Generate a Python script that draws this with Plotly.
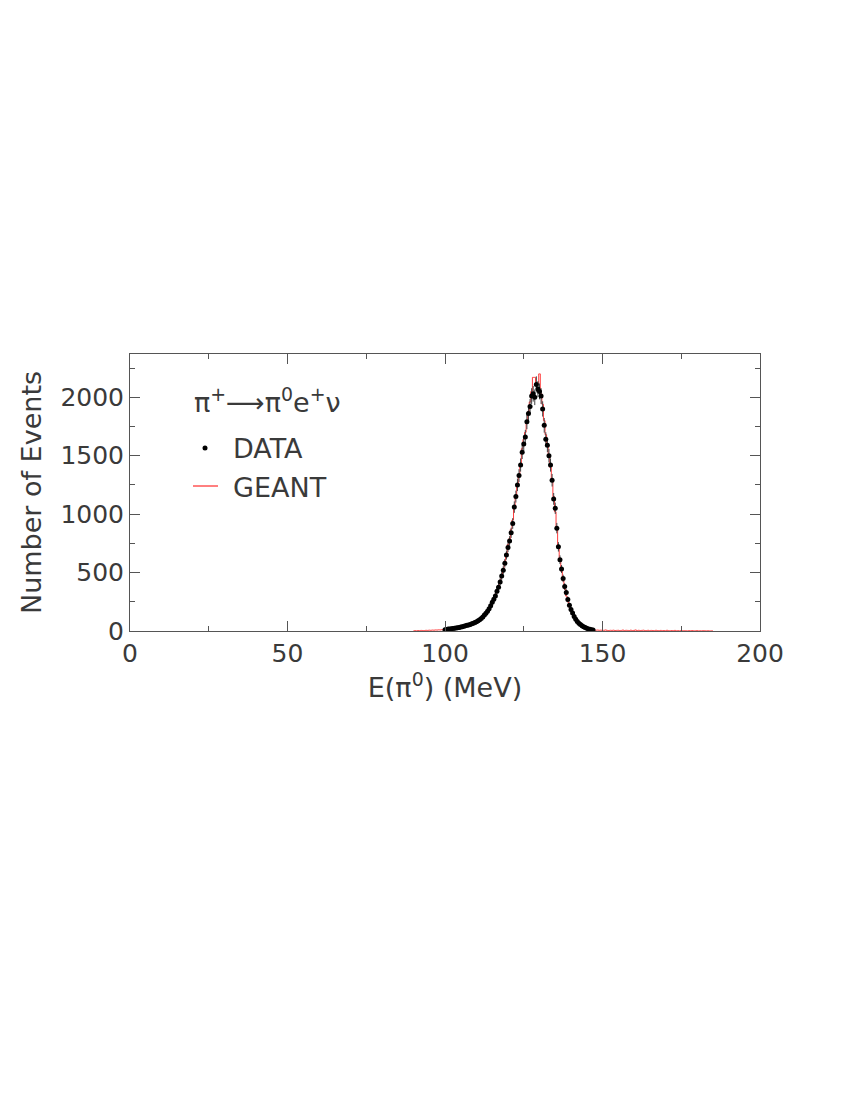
import plotly.graph_objects as go
import numpy as np

# DATA: bin centres (MeV), 0.5 MeV bins
data_e = [100.0 + 0.5 * i for i in range(95)]
data_n = [10, 13, 17, 18, 20, 22, 23, 26, 28, 31,
          34, 37, 41, 45, 49, 52, 56, 61, 66, 73,
          80, 88, 97, 108, 120, 136, 152, 170, 190, 215,
          245, 272, 300, 340, 375, 420, 470, 520, 580, 650,
          715, 770, 840, 920, 1060, 1150, 1250, 1330, 1420, 1530,
          1600, 1660, 1790, 1860, 1920, 2010, 2030, 2000, 2110, 2070,
          2050, 2010, 1900, 1760, 1640, 1590, 1500, 1420, 1290, 1130,
          1050, 880, 720, 610, 530, 450, 380, 330, 270, 220,
          185, 155, 125, 100, 82, 67, 55, 45, 37, 30,
          23, 18, 14, 11, 8]

# GEANT simulation histogram, 0.5 MeV bins from 90 to 185 MeV
geant_e = [90.0 + 0.5 * i for i in range(191)]
geant_low = [2, 3, 1, 4, 2, 5, 3, 4, 6, 5, 7, 6, 8, 7, 9, 8, 10, 9, 11, 12]
geant_peak = [12, 14, 15, 18, 19, 21, 24, 25, 29, 31,
              33, 38, 40, 44, 48, 53, 57, 60, 67, 72,
              81, 90, 100, 110, 124, 138, 155, 175, 196, 225,
              250, 280, 315, 350, 390, 435, 480, 535, 600, 660,
              740, 790, 870, 950, 1060, 1150, 1240, 1340, 1410, 1560,
              1640, 1700, 1800, 1880, 1960, 2050, 2170, 2170, 2100, 2120,
              2200, 2030, 1940, 1800, 1680, 1600, 1510, 1400, 1280, 1150,
              1020, 870, 720, 600, 510, 430, 360, 300, 250, 205,
              170, 140, 113, 90, 73, 60, 50, 41, 34, 27,
              22, 17, 14, 11, 9]
geant_high = [8, 7, 8, 6, 7, 5, 6, 9, 5, 4, 6, 5, 7, 4, 5, 6, 3, 5, 8, 4,
              6, 5, 3, 7, 4, 5, 9, 3, 6, 4, 5, 7, 3, 4, 6, 2, 5, 4, 3, 6,
              4, 2, 5, 3, 4, 2, 6, 3, 2, 4, 3, 5, 2, 3, 1, 4, 2, 3, 2, 1,
              3, 2, 4, 1, 2, 3, 1, 2, 1, 3, 2, 1, 2, 1, 1, 2]
geant_n = geant_low + geant_peak + geant_high

x_ticks = [0, 50, 100, 150, 200]
y_ticks = [0, 500, 1000, 1500, 2000]

FONT = "DejaVu Sans ExtraLight, DejaVu Sans, sans-serif"
TXT = "#3a3a3a"
AXC = "#555555"

# target plot-area pixel box in the page
PL, PR, PT, PB = 130, 760, 354, 631
OFF = 8  # page body margin

fig = go.Figure()

fig.add_trace(go.Scatter(
    x=geant_e[:len(geant_n)], y=geant_n, mode="lines",
    line=dict(color="#ff3b3b", width=1, shape="hvh"),
    showlegend=False, hoverinfo="skip"))

fig.add_trace(go.Scatter(
    x=data_e, y=data_n, mode="markers",
    marker=dict(color="black", size=5),
    error_y=dict(type="data", array=[float(np.sqrt(v)) * 1.5 for v in data_n],
                 color="#444444", thickness=1, width=0),
    showlegend=False, hoverinfo="skip"))

axis_common = dict(
    showline=True, linecolor=AXC, linewidth=1, mirror="ticks",
    ticks="inside", ticklen=10, tickcolor=AXC, tickwidth=1,
    showgrid=False, zeroline=False,
    tickfont=dict(family=FONT, size=25, color=TXT),
)

fig.update_xaxes(
    range=[0, 200], tickvals=x_ticks, ticktext=[str(v) for v in x_ticks],
    minor=dict(ticks="inside", ticklen=5, dtick=25, tickcolor=AXC, tickwidth=1),
    title=dict(text="E(π<sup>0</sup>) (MeV)", font=dict(family=FONT, size=27, color=TXT),
               standoff=4),
    automargin=False,
    **axis_common)
fig.update_yaxes(
    range=[0, 2370], tickvals=y_ticks, ticktext=[str(v) for v in y_ticks],
    minor=dict(ticks="inside", ticklen=5, dtick=250, tickcolor=AXC, tickwidth=1),
    title=dict(text="Number of Events", font=dict(family=FONT, size=27, color=TXT),
               standoff=10),
    automargin=False,
    **axis_common)


def px_to_paper(px, py):
    return (px - PL) / (PR - PL), (PB - py) / (PB - PT)


ax, ay = px_to_paper(192, 400)
fig.add_annotation(x=ax, y=ay, xref="paper", yref="paper", xanchor="left", yanchor="middle",
                   text="π<sup>+</sup>⟶π<sup>0</sup>e<sup>+</sup>ν", showarrow=False,
                   font=dict(family=FONT, size=27, color=TXT))
ax, ay = px_to_paper(231, 448)
fig.add_annotation(x=ax, y=ay, xref="paper", yref="paper", xanchor="left", yanchor="middle",
                   text="DATA", showarrow=False, font=dict(family=FONT, size=27, color=TXT))
ax, ay = px_to_paper(231, 487)
fig.add_annotation(x=ax, y=ay, xref="paper", yref="paper", xanchor="left", yanchor="middle",
                   text="GEANT", showarrow=False, font=dict(family=FONT, size=27, color=TXT))

# legend symbols
W, H = PR - PL, PB - PT
x0, y0 = px_to_paper(205, 448)
fig.add_shape(type="circle", xref="paper", yref="paper",
              x0=x0 - 2.5 / W, x1=x0 + 2.5 / W, y0=y0 - 2.5 / H, y1=y0 + 2.5 / H,
              fillcolor="black", line=dict(color="black", width=0))
x1, y1 = px_to_paper(193, 486)
x2, _ = px_to_paper(218, 486)
fig.add_shape(type="line", xref="paper", yref="paper", x0=x1, x1=x2, y0=y1, y1=y1,
              line=dict(color="red", width=1))

fig.update_layout(
    width=850, height=1100,
    margin=dict(l=PL - OFF, r=850 - PR + OFF, t=PT - OFF, b=1100 - PB + OFF),
    plot_bgcolor="white", paper_bgcolor="white",
    showlegend=False,
)

fig.write_html("out.html")
